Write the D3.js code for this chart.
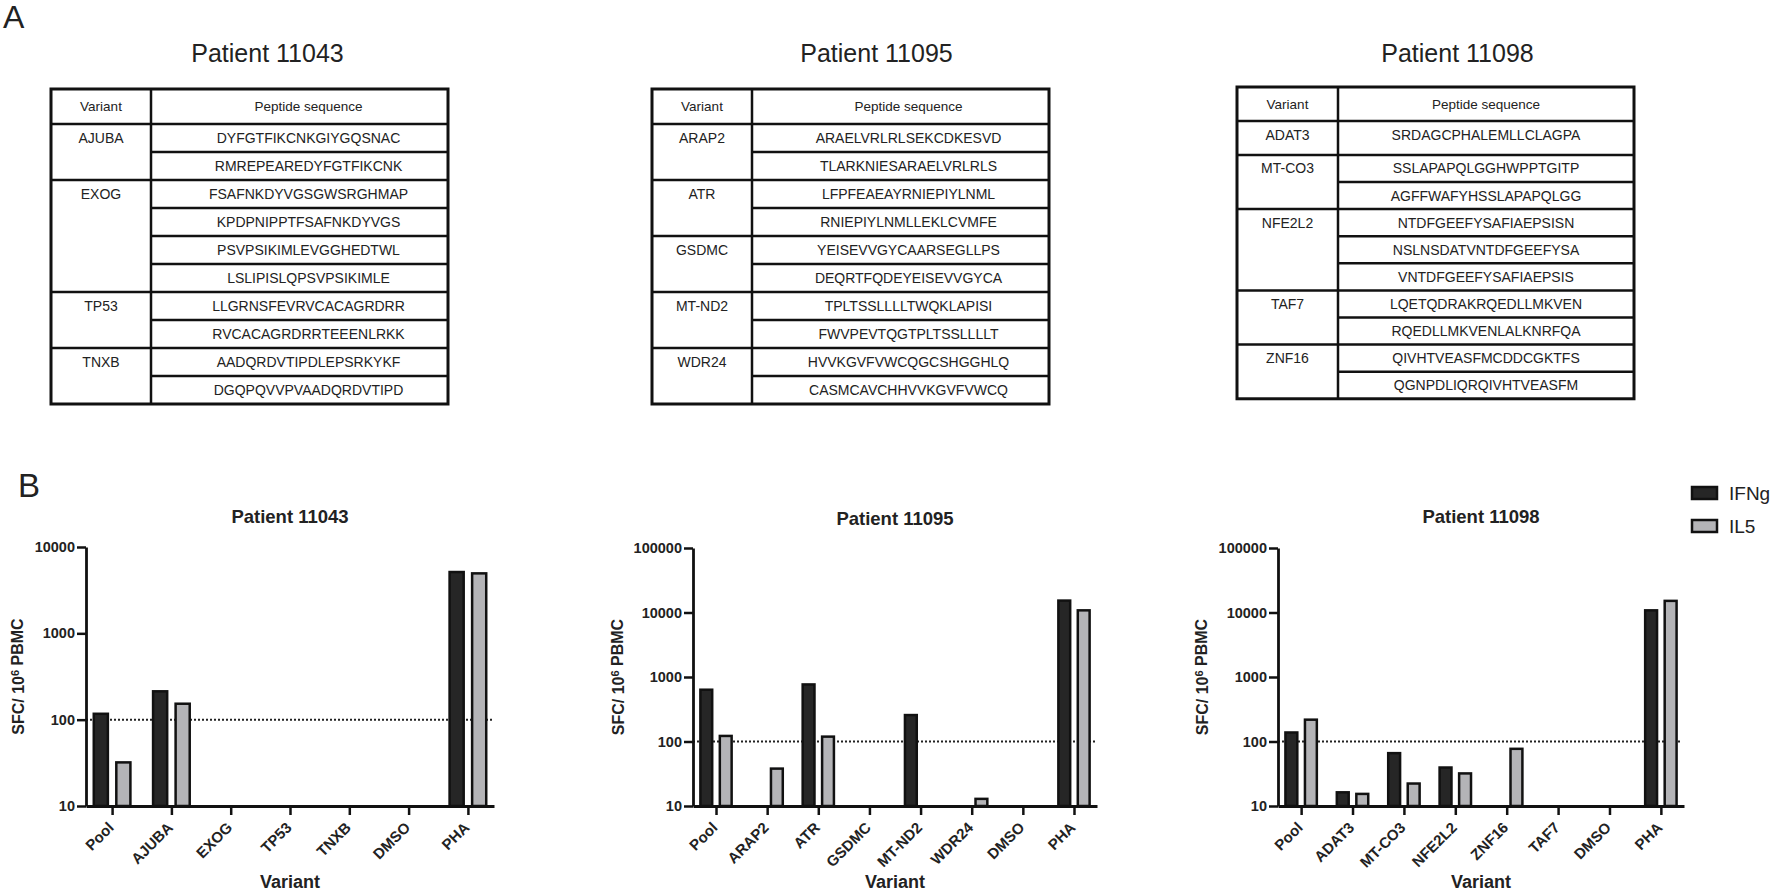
<!DOCTYPE html>
<html><head><meta charset="utf-8">
<script src="https://cdn.jsdelivr.net/npm/d3@7"></script>
<style>
body{margin:0;background:#fff}
svg{display:block}
text{font-family:"Liberation Sans",Arial,Helvetica,sans-serif}
</style>
</head><body>
<svg id="c" width="1772" height="893"></svg>
<script>
// ---------------- DATA ----------------
const patients = ["Patient 11043", "Patient 11095", "Patient 11098"];

// Panel A tables
const variants11043 = ["AJUBA", "EXOG", "TP53", "TNXB"];
const peptides11043 = [
  ["DYFGTFIKCNKGIYGQSNAC", "RMREPEAREDYFGTFIKCNK"],
  ["FSAFNKDYVGSGWSRGHMAP", "KPDPNIPPTFSAFNKDYVGS", "PSVPSIKIMLEVGGHEDTWL", "LSLIPISLQPSVPSIKIMLE"],
  ["LLGRNSFEVRVCACAGRDRR", "RVCACAGRDRRTEEENLRKK"],
  ["AADQRDVTIPDLEPSRKYKF", "DGQPQVVPVAADQRDVTIPD"]
];
const variants11095 = ["ARAP2", "ATR", "GSDMC", "MT-ND2", "WDR24"];
const peptides11095 = [
  ["ARAELVRLRLSEKCDKESVD", "TLARKNIESARAELVRLRLS"],
  ["LFPFEAEAYRNIEPIYLNML", "RNIEPIYLNMLLEKLCVMFE"],
  ["YEISEVVGYCAARSEGLLPS", "DEQRTFQDEYEISEVVGYCA"],
  ["TPLTSSLLLLTWQKLAPISI", "FWVPEVTQGTPLTSSLLLLT"],
  ["HVVKGVFVWCQGCSHGGHLQ", "CASMCAVCHHVVKGVFVWCQ"]
];
const variants11098 = ["ADAT3", "MT-CO3", "NFE2L2", "TAF7", "ZNF16"];
const peptides11098 = [
  ["SRDAGCPHALEMLLCLAGPA"],
  ["SSLAPAPQLGGHWPPTGITP", "AGFFWAFYHSSLAPAPQLGG"],
  ["NTDFGEEFYSAFIAEPSISN", "NSLNSDATVNTDFGEEFYSA", "VNTDFGEEFYSAFIAEPSIS"],
  ["LQETQDRAKRQEDLLMKVEN", "RQEDLLMKVENLALKNRFQA"],
  ["QIVHTVEASFMCDDCGKTFS", "QGNPDLIQRQIVHTVEASFM"]
];
const tableHeaders = ["Variant", "Peptide sequence"];

// Panel B charts
const series = ["IFNg", "IL5"];
const categories11043 = ["Pool", "AJUBA", "EXOG", "TP53", "TNXB", "DMSO", "PHA"];
const ifng11043 = [117, 213, null, null, null, null, 5130];
const il5_11043 = [32, 153, null, null, null, null, 4950];

const categories11095 = ["Pool", "ARAP2", "ATR", "GSDMC", "MT-ND2", "WDR24", "DMSO", "PHA"];
const ifng11095 = [635, null, 767, null, 257, null, null, 15300];
const il5_11095 = [122, 38, 119, null, null, 12.9, null, 10800];

const categories11098 = ["Pool", "ADAT3", "MT-CO3", "NFE2L2", "ZNF16", "TAF7", "DMSO", "PHA"];
const ifng11098 = [138, 16.3, 66, 39.5, null, null, null, 10800];
const il5_11098 = [218, 15.4, 22.3, 32, 77, null, null, 15150];

const yTicks3 = [10, 100, 1000, 10000];
const yTicks4 = [10, 100, 1000, 10000, 100000];
const threshold = 100;
const yAxisTitle = "SFC/ 10";
const yAxisSup = "6";
const yAxisTitleEnd = " PBMC";
const xAxisTitle = "Variant";

// ---------------- DRAW ----------------
const svg = d3.select("#c");
const INK = "#111";
const TXT = "#222";
const colors = {IFNg: "#262626", IL5: "#b4b4b7"};

// panel letters
svg.append("text").attr("x", 3).attr("y", 28).attr("font-size", 32).attr("fill", TXT).text("A");
svg.append("text").attr("x", 18).attr("y", 497).attr("font-size", 33).attr("fill", TXT).text("B");

// ---- Tables ----
const tableLayouts = [
  {x0: 51, x1: 448, div: 151, y0: 89, head: 35, rowH: 28, titleDx: 18, textDx: 9},
  {x0: 652, x1: 1049, div: 752, y0: 89, head: 35, rowH: 28, titleDx: 26, textDx: 8},
  {x0: 1237, x1: 1634, div: 1338, y0: 87, head: 34, rowH: 27.1, titleDx: 22, textDx: 0}
];
const tableData = [
  {variants: variants11043, peptides: peptides11043},
  {variants: variants11095, peptides: peptides11095},
  {variants: variants11098, peptides: peptides11098}
];

tableData.forEach((td, ti) => {
  const L = tableLayouts[ti];
  const g = svg.append("g");
  const cx = (L.x0 + L.x1) / 2;
  g.append("text").attr("x", cx + L.titleDx).attr("y", 62).attr("text-anchor", "middle")
    .attr("font-size", 25).attr("fill", TXT).text(patients[ti]);

  let y = L.y0 + L.head;
  const lines = [];
  const texts = [];
  td.variants.forEach((v, vi) => {
    const peps = td.peptides[vi];
    const groupTop = y;
    const groupH = peps.length === 1 ? L.rowH * 1.25 : L.rowH * peps.length;
    texts.push({x: (L.x0 + L.div) / 2, y: groupTop + L.rowH / 2, t: v});
    peps.forEach((p, pi) => {
      const ry = groupTop + pi * L.rowH;
      texts.push({x: (L.div + L.x1) / 2 + L.textDx, y: ry + L.rowH / 2, t: p});
      if (pi > 0) lines.push([L.div, ry, L.x1, ry]);
    });
    y = groupTop + groupH;
    if (vi < td.variants.length - 1) lines.push([L.x0, y, L.x1, y]);
  });
  const yEnd = y;
  lines.push([L.x0, L.y0 + L.head, L.x1, L.y0 + L.head]);
  lines.push([L.div, L.y0, L.div, yEnd]);

  g.selectAll("line.t").data(lines).join("line")
    .attr("x1", d => d[0]).attr("y1", d => d[1]).attr("x2", d => d[2]).attr("y2", d => d[3])
    .attr("stroke", INK).attr("stroke-width", 2.5);
  g.append("rect").attr("x", L.x0).attr("y", L.y0).attr("width", L.x1 - L.x0).attr("height", yEnd - L.y0)
    .attr("fill", "none").attr("stroke", INK).attr("stroke-width", 3);

  g.append("text").attr("x", (L.x0 + L.div) / 2).attr("y", L.y0 + L.head / 2).attr("dy", "0.35em")
    .attr("text-anchor", "middle").attr("font-size", 13.5).attr("fill", TXT).text(tableHeaders[0]);
  g.append("text").attr("x", (L.div + L.x1) / 2 + L.textDx).attr("y", L.y0 + L.head / 2).attr("dy", "0.35em")
    .attr("text-anchor", "middle").attr("font-size", 13.5).attr("fill", TXT).text(tableHeaders[1]);

  g.selectAll("text.c").data(texts).join("text")
    .attr("x", d => d.x).attr("y", d => d.y).attr("dy", "0.36em")
    .attr("text-anchor", "middle").attr("font-size", 14).attr("fill", TXT).text(d => d.t);
});

// ---- Charts ----
const chartLayouts = [
  {x0: 86, x1: 494, yTop: 547, yBot: 806, pad: 0.44, titleY: 523, ylabX: 18},
  {x0: 693, x1: 1097, yTop: 548, yBot: 806, pad: 0.45, titleY: 525, ylabX: 618},
  {x0: 1278, x1: 1684, yTop: 548, yBot: 806, pad: 0.45, titleY: 523, ylabX: 1202}
];
const chartData = [
  {cats: categories11043, vals: {IFNg: ifng11043, IL5: il5_11043}, ticks: yTicks3},
  {cats: categories11095, vals: {IFNg: ifng11095, IL5: il5_11095}, ticks: yTicks4},
  {cats: categories11098, vals: {IFNg: ifng11098, IL5: il5_11098}, ticks: yTicks4}
];

chartData.forEach((cd, ci) => {
  const L = chartLayouts[ci];
  const g = svg.append("g");
  const x = d3.scalePoint().domain(cd.cats).range([L.x0, L.x1]).padding(L.pad);
  const step = x.step();
  const y = d3.scaleLog().domain([cd.ticks[0], cd.ticks[cd.ticks.length - 1]]).range([L.yBot, L.yTop]);
  const xs = d3.scalePoint().domain(series).range([-0.19 * step, 0.19 * step]);
  const bw = 0.28 * step - 2.5;

  g.append("text").attr("x", (L.x0 + L.x1) / 2).attr("y", L.titleY).attr("text-anchor", "middle")
    .attr("font-size", 18.5).attr("font-weight", "bold").attr("fill", TXT).text(patients[ci]);

  g.append("line").attr("x1", L.x0).attr("x2", L.x1 - 2).attr("y1", y(threshold)).attr("y2", y(threshold))
    .attr("stroke", "#222").attr("stroke-width", 2).attr("stroke-dasharray", "2 2");

  const bars = [];
  cd.cats.forEach((c, i) => series.forEach(s => {
    const v = cd.vals[s][i];
    if (v != null) bars.push({c, s, v});
  }));
  g.selectAll("rect.bar").data(bars).join("rect")
    .attr("x", d => x(d.c) + xs(d.s) - bw / 2)
    .attr("y", d => y(d.v))
    .attr("width", bw)
    .attr("height", d => L.yBot - y(d.v))
    .attr("fill", d => colors[d.s]).attr("stroke", INK).attr("stroke-width", 2.5);

  const ya = g.append("g").attr("transform", `translate(${L.x0},0)`)
    .call(d3.axisLeft(y).tickValues(cd.ticks).tickFormat(d3.format("d")).tickSize(9).tickSizeOuter(0).tickPadding(2));
  ya.select(".domain").attr("stroke", INK).attr("stroke-width", 2.8);
  ya.selectAll(".tick line").attr("stroke", INK).attr("stroke-width", 2.5);
  ya.selectAll(".tick text").attr("font-size", 14.5).attr("font-weight", "bold").attr("fill", TXT)
    .attr("font-family", "Liberation Sans, Arial, sans-serif");

  const xa = g.append("g").attr("transform", `translate(0,${L.yBot})`)
    .call(d3.axisBottom(x).tickSize(9).tickSizeOuter(0).tickFormat(""));
  xa.select(".domain").attr("stroke", INK).attr("stroke-width", 2.8);
  xa.selectAll(".tick line").attr("stroke", INK).attr("stroke-width", 2.5);

  g.selectAll("text.xl").data(cd.cats).join("text")
    .attr("transform", d => `translate(${x(d) - 5},${L.yBot + 15}) rotate(-45)`)
    .attr("dy", "0.71em").attr("text-anchor", "end")
    .attr("font-size", 15).attr("font-weight", "bold").attr("fill", TXT).text(d => d);

  const yl = g.append("text").attr("transform", `translate(${L.ylabX},${(L.yTop + L.yBot) / 2}) rotate(-90)`)
    .attr("dy", "0.35em").attr("text-anchor", "middle").attr("font-size", 16).attr("font-weight", "bold").attr("fill", TXT);
  yl.append("tspan").text(yAxisTitle);
  yl.append("tspan").attr("font-size", 11).attr("dy", "-0.45em").text(yAxisSup);
  yl.append("tspan").attr("dy", "0.3em").text(yAxisTitleEnd);

  g.append("text").attr("x", (L.x0 + L.x1) / 2).attr("y", 888).attr("text-anchor", "middle")
    .attr("font-size", 18).attr("font-weight", "bold").attr("fill", TXT).text(xAxisTitle);
});

// legend
const leg = svg.append("g");
series.forEach((s, i) => {
  leg.append("rect").attr("x", 1692).attr("y", 487 + i * 33).attr("width", 25).attr("height", 12)
    .attr("fill", colors[s]).attr("stroke", INK).attr("stroke-width", 2.5);
  leg.append("text").attr("x", 1729).attr("y", 500 + i * 32.5).attr("font-size", 19).attr("fill", TXT).text(s);
});
</script>
</body></html>
